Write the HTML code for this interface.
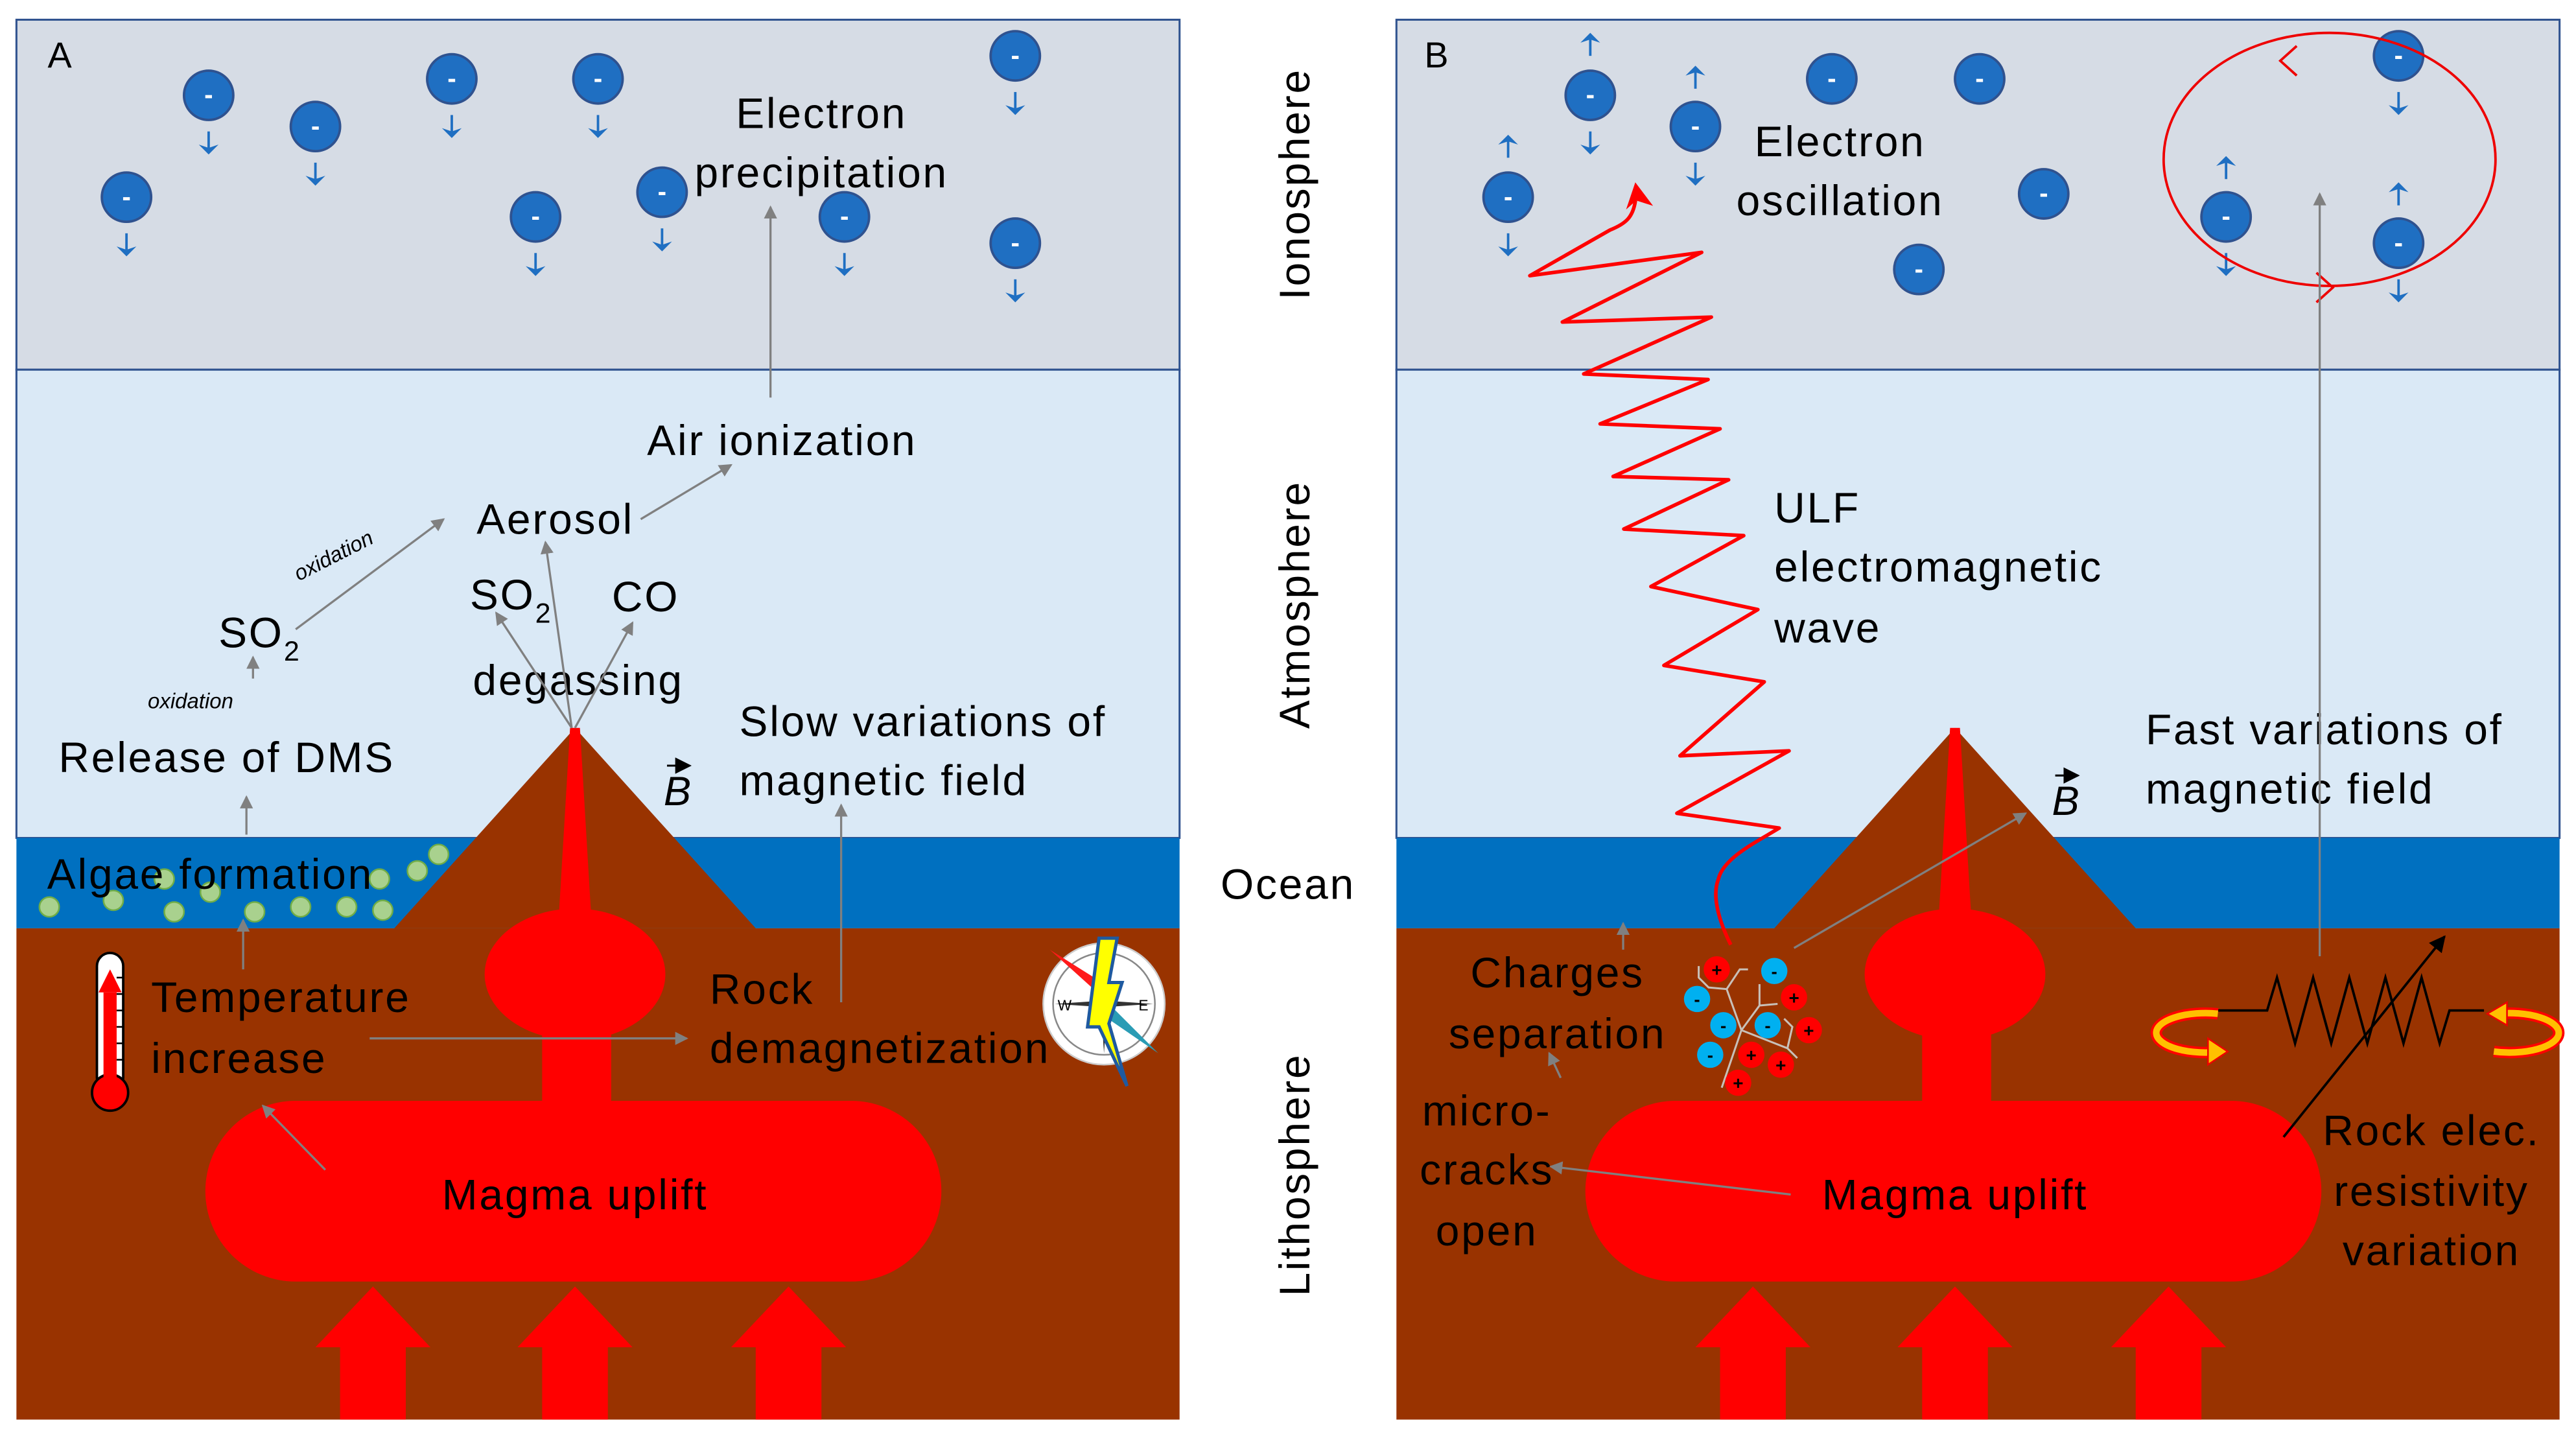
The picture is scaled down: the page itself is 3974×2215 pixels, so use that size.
<!DOCTYPE html>
<html><head><meta charset="utf-8"><style>
html,body{margin:0;padding:0;background:#fff;}
svg{display:block;}
text{font-family:"Liberation Sans",sans-serif;fill:#000;}
.t{font-size:26px;letter-spacing:1.1px;}
</style></head><body>
<svg width="3974" height="2215" viewBox="0 0 1568 874" preserveAspectRatio="none" xmlns="http://www.w3.org/2000/svg">
<defs>
<marker id="ga" markerWidth="8" markerHeight="8" refX="7" refY="4" orient="auto" markerUnits="userSpaceOnUse"><path d="M0,0 L8,4 L0,8 z" fill="#808080"/></marker>
<marker id="ba" markerWidth="10" markerHeight="10" refX="9" refY="5" orient="auto" markerUnits="userSpaceOnUse"><path d="M0,0 L10,5 L0,10 z" fill="#000"/></marker>
<g id="el"><circle r="15" fill="#1f6fc2" stroke="#2f528f" stroke-width="1.5"/><text x="0" y="5" text-anchor="middle" font-size="16" style="fill:#fff" font-weight="bold">-</text></g>
<g id="dn"><line x1="0" y1="0" x2="0" y2="10" stroke="#1f6fc2" stroke-width="1.5"/><path d="M-6,8 L0,14 L6,8 L0,10 z" fill="#1f6fc2"/></g>
<g id="up"><line x1="0" y1="0" x2="0" y2="-10" stroke="#1f6fc2" stroke-width="1.5"/><path d="M-6,-8 L0,-14 L6,-8 L0,-10 z" fill="#1f6fc2"/></g>
<g id="bigarrow"><path d="M-35,820 L0,783 L35,820 L20,820 L20,864 L-20,864 L-20,820 z" fill="#ff0000"/></g>
<g id="volc">
 <rect x="0" y="12" width="708" height="213" fill="#d6dce5" stroke="#2f528f" stroke-width="1.2"/>
 <rect x="0" y="225" width="708" height="285" fill="#dae9f6" stroke="#2f528f" stroke-width="1.2"/>
 <rect x="0" y="510" width="708" height="55" fill="#0070c0"/>
 <rect x="0" y="565" width="708" height="299" fill="#993300"/>
 <path d="M230,565 L340,443 L450,565 z" fill="#993300"/>
 <path d="M337,443 L343,443 L350,560 L330,560 z" fill="#ff0000"/>
 <ellipse cx="340" cy="593" rx="55" ry="40" fill="#ff0000"/>
 <rect x="320" y="600" width="42" height="80" fill="#ff0000"/>
 <rect x="115" y="670" width="448" height="110" rx="55" fill="#ff0000"/>
 <use href="#bigarrow" x="217"/><use href="#bigarrow" x="340"/><use href="#bigarrow" x="470"/>
</g>
</defs>

<g transform="translate(10,0)"><use href="#volc"/></g>
<g transform="translate(850,0)"><use href="#volc"/></g>

<!-- Side labels -->
<text class="t" transform="translate(797,112) rotate(-90)" text-anchor="middle">Ionosphere</text>
<text class="t" transform="translate(797,368) rotate(-90)" text-anchor="middle">Atmosphere</text>
<text class="t" x="784" y="547" text-anchor="middle">Ocean</text>
<text class="t" transform="translate(797,715) rotate(-90)" text-anchor="middle">Lithosphere</text>

<!-- Panel A electrons -->
<g>
<use href="#el" x="127" y="58"/><use href="#dn" x="127" y="80"/>
<use href="#el" x="192" y="77"/><use href="#dn" x="192" y="99"/>
<use href="#el" x="275" y="48"/><use href="#dn" x="275" y="70"/>
<use href="#el" x="364" y="48"/><use href="#dn" x="364" y="70"/>
<use href="#el" x="77" y="120"/><use href="#dn" x="77" y="142"/>
<use href="#el" x="326" y="132"/><use href="#dn" x="326" y="154"/>
<use href="#el" x="403" y="117"/><use href="#dn" x="403" y="139"/>
<use href="#el" x="514" y="132"/><use href="#dn" x="514" y="154"/>
<use href="#el" x="618" y="34"/><use href="#dn" x="618" y="56"/>
<use href="#el" x="618" y="148"/><use href="#dn" x="618" y="170"/>
</g>

<!-- algae -->
<g fill="#a9d18e" stroke="#70ad47" stroke-width="1">
<circle cx="30" cy="552" r="6"/><circle cx="69" cy="548" r="6"/><circle cx="106" cy="555" r="6"/><circle cx="128" cy="543" r="6"/><circle cx="155" cy="555" r="6"/><circle cx="183" cy="552" r="6"/><circle cx="211" cy="552" r="6"/><circle cx="233" cy="554" r="6"/><circle cx="231" cy="535" r="6"/><circle cx="254" cy="530" r="6"/><circle cx="267" cy="520" r="6"/><circle cx="100" cy="535" r="6"/>
</g>

<!-- thermometer -->
<rect x="59" y="580" width="16" height="84" rx="8" fill="#fff" stroke="#000" stroke-width="1.5"/>
<circle cx="67" cy="665" r="11" fill="#ff0000" stroke="#000" stroke-width="1.5"/>
<rect x="63" y="604" width="8" height="60" fill="#ff0000"/>
<g stroke="#000" stroke-width="1"><line x1="71" y1="595" x2="75" y2="595"/><line x1="71" y1="605" x2="75" y2="605"/><line x1="71" y1="615" x2="75" y2="615"/><line x1="71" y1="625" x2="75" y2="625"/><line x1="71" y1="635" x2="75" y2="635"/><line x1="71" y1="645" x2="75" y2="645"/></g>
<path d="M60,604 L67,590 L74,604 z" fill="#ff0000"/>

<!-- compass -->
<g transform="translate(672,611)">
<circle r="37" fill="#fff" stroke="#ccc"/>
<circle r="31" fill="none" stroke="#888" stroke-width="1"/>
<path d="M-30,0 L0,-2 L30,0 L0,2 z" fill="#333"/>
<path d="M0,-30 L2,0 L0,30 L-2,0 z" fill="#333"/>
<path d="M-33,-33 L-3,-6 L2,-11 z" fill="#ff1a1a"/>
<path d="M3,0 L33,30 L-2,6 z" fill="#2a9cb5"/>
<path d="M-3,-40 L8,-40 L3,-13 L11,-13 L3,12 L14,50 L-3,14 L-10,14 z" fill="#ffff00" stroke="#1f5aa0" stroke-width="2"/>
<text x="-24" y="4" font-size="9" text-anchor="middle">W</text><text x="24" y="4" font-size="9" text-anchor="middle">E</text>
</g>

<!-- Panel A text -->
<text x="29" y="41" font-size="22">A</text>
<text class="t" x="500" y="78" text-anchor="middle">Electron</text>
<text class="t" x="500" y="114" text-anchor="middle">precipitation</text>
<text class="t" x="476" y="277" text-anchor="middle">Air ionization</text>
<text class="t" x="338" y="325" text-anchor="middle">Aerosol</text>
<text class="t" x="133" y="394">SO<tspan font-size="17" dy="8">2</tspan></text>
<text transform="translate(205,342) rotate(-27)" text-anchor="middle" font-size="13" font-style="italic">oxidation</text>
<text x="116" y="431" text-anchor="middle" font-size="13" font-style="italic">oxidation</text>
<text class="t" x="286" y="371">SO<tspan font-size="17" dy="8">2</tspan></text>
<text class="t" x="393" y="372" text-anchor="middle">CO</text>
<text class="t" x="352" y="423" text-anchor="middle">degassing</text>
<text class="t" x="138" y="470" text-anchor="middle">Release of DMS</text>
<text class="t" x="450" y="448">Slow variations of</text>
<text class="t" x="450" y="484">magnetic field</text>
<text x="404" y="490" font-size="25" font-style="italic" font-family="Liberation Serif">B</text>
<line x1="406" y1="466" x2="420" y2="466" stroke="#000" stroke-width="1.2" marker-end="url(#ba)"/>
<text class="t" x="128" y="541" text-anchor="middle">Algae formation</text>
<text class="t" x="92" y="616">Temperature</text>
<text class="t" x="92" y="653">increase</text>
<text class="t" x="432" y="611">Rock</text>
<text class="t" x="432" y="647">demagnetization</text>
<text class="t" x="350" y="736" text-anchor="middle">Magma uplift</text>

<!-- Panel A gray arrows -->
<g stroke="#808080" stroke-width="1.3" fill="none" marker-end="url(#ga)">
<line x1="469" y1="242" x2="469" y2="126"/>
<line x1="390" y1="316" x2="445" y2="283"/>
<line x1="180" y1="383" x2="270" y2="316"/>
<line x1="154" y1="413" x2="154" y2="400"/>
<line x1="348" y1="443" x2="332" y2="330"/>
<line x1="348" y1="443" x2="302" y2="373"/>
<line x1="350" y1="443" x2="385" y2="379"/>
<line x1="150" y1="508" x2="150" y2="485"/>
<line x1="148" y1="590" x2="148" y2="560"/>
<line x1="225" y1="632" x2="418" y2="632"/>
<line x1="198" y1="712" x2="160" y2="673"/>
<line x1="512" y1="610" x2="512" y2="490"/>
</g>

<!-- Panel B electrons -->
<g>
<use href="#el" x="968" y="58"/><use href="#up" x="968" y="34"/><use href="#dn" x="968" y="80"/>
<use href="#el" x="1032" y="77"/><use href="#up" x="1032" y="54"/><use href="#dn" x="1032" y="99"/>
<use href="#el" x="918" y="120"/><use href="#up" x="918" y="96"/><use href="#dn" x="918" y="142"/>
<use href="#el" x="1115" y="48"/><use href="#el" x="1205" y="48"/><use href="#el" x="1244" y="118"/><use href="#el" x="1168" y="164"/>
<use href="#el" x="1460" y="34"/><use href="#dn" x="1460" y="56"/>
<use href="#el" x="1355" y="132"/><use href="#up" x="1355" y="109"/><use href="#dn" x="1355" y="154"/>
<use href="#el" x="1460" y="148"/><use href="#up" x="1460" y="125"/><use href="#dn" x="1460" y="170"/>
</g>
<ellipse cx="1418" cy="97" rx="101" ry="77" fill="none" stroke="#e00" stroke-width="1.5"/>
<path d="M1398,28 L1388,37 L1398,46" fill="none" stroke="#e00" stroke-width="1.5"/>
<path d="M1410,166 L1420,175 L1410,184" fill="none" stroke="#e00" stroke-width="1.5"/>

<!-- ULF wave -->
<path d="M1053.5,575 C1046,560 1042,545 1046,535 C1049,522 1070,512 1083,504 L1020.7,495 L1089,457 L1022.6,460 L1073.9,415 L1012.8,405 L1070,371 L1004.9,357 L1061.4,326 L988.4,322 L1052.2,292 L981.9,290 L1047,261 L974,258 L1039.7,231 L964,227.6 L1041.7,193 L951,196 L1035.8,153.6 L931.2,167.8 L980,140 C990,136 994,132 995.5,122" fill="none" stroke="#f00" stroke-width="2.2" stroke-linejoin="round"/>
<path d="M989.8,127.5 L995.4,111 L1006.2,125.3 L996,122 z" fill="#f00"/>

<!-- charges -->
<g stroke="#c8c0b8" stroke-width="1.2" fill="none">
<path d="M1048,662 L1060,627 L1051,602 L1040,601 L1034,595 L1034,588"/>
<path d="M1051,602 L1059,590 L1064,590"/>
<path d="M1060,627 L1071,612 L1071,599 M1071,612 L1082,611"/>
<path d="M1060,627 L1088,638 L1091,625 L1086,620 M1088,638 L1094,644"/>
</g>
<g font-size="11" text-anchor="middle" font-weight="bold">
<circle cx="1045" cy="590" r="8" fill="#ff0000"/><text x="1045" y="594">+</text>
<circle cx="1033" cy="608" r="8" fill="#00b0f0"/><text x="1033" y="612">-</text>
<circle cx="1080" cy="591" r="8" fill="#00b0f0"/><text x="1080" y="595">-</text>
<circle cx="1092" cy="607" r="8" fill="#ff0000"/><text x="1092" y="611">+</text>
<circle cx="1049" cy="624" r="8" fill="#00b0f0"/><text x="1049" y="628">-</text>
<circle cx="1076" cy="624" r="8" fill="#00b0f0"/><text x="1076" y="628">-</text>
<circle cx="1101" cy="627" r="8" fill="#ff0000"/><text x="1101" y="631">+</text>
<circle cx="1041" cy="642" r="8" fill="#00b0f0"/><text x="1041" y="646">-</text>
<circle cx="1066" cy="642" r="8" fill="#ff0000"/><text x="1066" y="646">+</text>
<circle cx="1084" cy="648" r="8" fill="#ff0000"/><text x="1084" y="652">+</text>
<circle cx="1058" cy="659" r="8" fill="#ff0000"/><text x="1058" y="663">+</text>
</g>

<!-- resistor -->
<path d="M1340,615 L1380,615 L1386,595 L1397,635 L1408,595 L1419,635 L1430,595 L1441,635 L1452,595 L1463,635 L1474,595 L1485,635 L1491,615 L1512,615" fill="none" stroke="#000" stroke-width="1.5"/>
<line x1="1390" y1="692" x2="1488" y2="570" stroke="#000" stroke-width="1.5" marker-end="url(#ba)"/>
<g fill="none" stroke="#ff0000" stroke-width="7"><path d="M1350,617 A30,12 0 1 0 1352,640"/><path d="M1520,617 A30,12 0 1 1 1518,640"/></g>
<g fill="none" stroke="#ffc000" stroke-width="4"><path d="M1350,617 A30,12 0 1 0 1352,640"/><path d="M1520,617 A30,12 0 1 1 1518,640"/></g>
<path d="M1344,632 L1356,640 L1344,648 z" fill="#ffc000" stroke="#e00"/>
<path d="M1526,610 L1514,617 L1526,624 z" fill="#ffc000" stroke="#e00"/>

<!-- Panel B text -->
<text x="867" y="41" font-size="22">B</text>
<text class="t" x="1120" y="95" text-anchor="middle">Electron</text>
<text class="t" x="1120" y="131" text-anchor="middle">oscillation</text>
<text class="t" x="1080" y="318">ULF</text>
<text class="t" x="1080" y="354">electromagnetic</text>
<text class="t" x="1080" y="391">wave</text>
<text class="t" x="1306" y="453">Fast variations of</text>
<text class="t" x="1306" y="489">magnetic field</text>
<text x="1249" y="496" font-size="25" font-style="italic" font-family="Liberation Serif">B</text>
<line x1="1251" y1="472" x2="1265" y2="472" stroke="#000" stroke-width="1.2" marker-end="url(#ba)"/>
<text class="t" x="948" y="601" text-anchor="middle">Charges</text>
<text class="t" x="948" y="638" text-anchor="middle">separation</text>
<text class="t" x="905" y="685" text-anchor="middle">micro-</text>
<text class="t" x="905" y="721" text-anchor="middle">cracks</text>
<text class="t" x="905" y="758" text-anchor="middle">open</text>
<text class="t" x="1190" y="736" text-anchor="middle">Magma uplift</text>
<text class="t" x="1480" y="697" text-anchor="middle">Rock elec.</text>
<text class="t" x="1480" y="734" text-anchor="middle">resistivity</text>
<text class="t" x="1480" y="770" text-anchor="middle">variation</text>

<!-- Panel B gray arrows -->
<g stroke="#808080" stroke-width="1.3" fill="none" marker-end="url(#ga)">
<line x1="1092" y1="577" x2="1233" y2="495"/>
<line x1="988" y1="578" x2="988" y2="562"/>
<line x1="950" y1="656" x2="943" y2="641"/>
<line x1="1090" y1="727" x2="944" y2="710"/>
<line x1="1412" y1="582" x2="1412" y2="118"/>
</g>
</svg>
</body></html>
